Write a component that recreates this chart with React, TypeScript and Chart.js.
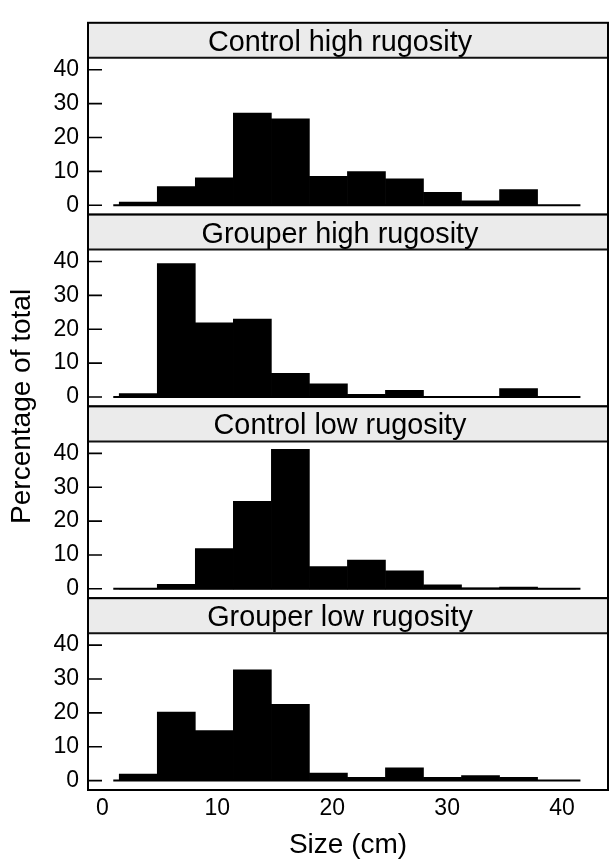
import React, { useEffect, useRef } from 'react';
import { Chart, registerables } from 'chart.js';

Chart.register(...registerables);

// ---------- data ----------
const panelTitles = [
  'Control high rugosity',
  'Grouper high rugosity',
  'Control low rugosity',
  'Grouper low rugosity',
];
const binEdges = [1.46, 4.77, 8.08, 11.39, 14.7, 18.01, 21.32, 24.63, 27.94, 31.25, 34.56, 37.87, 41.18];
const controlHigh = [0.9, 5.5, 8.1, 27.2, 25.5, 8.5, 9.9, 7.8, 3.8, 1.3, 4.6, 0];
const grouperHigh = [1.0, 39.4, 21.9, 23.0, 7.0, 3.9, 0.8, 2.0, 0, 0, 2.5, 0];
const controlLow = [0, 1.3, 11.9, 25.8, 41.2, 6.6, 8.5, 5.3, 1.2, 0.3, 0.5, 0];
const grouperLow = [1.9, 20.2, 14.8, 32.7, 22.5, 2.2, 1.0, 3.8, 1.0, 1.5, 1.0, 0];
const panelValues = [controlHigh, grouperHigh, controlLow, grouperLow];
const baselineX = [0.94, 41.6];
const xTickValues = [0, 10, 20, 30, 40];
const yTickValues = [0, 10, 20, 30, 40];
const xRange = [-1.26, 44.0];
const yRange = [-2.77, 53.86];
const xTitle = 'Size (cm)';
const yTitle = 'Percentage of total';

// ---------- style ----------
const FONT = '"Liberation Sans", Arial, Helvetica, sans-serif';
const W = 609;
const H = 859;
const STRIP_H = 35;
const TICK_LEN = 14;
const TICK_FONT = 23;

export default function App() {
  const ref = useRef<HTMLCanvasElement | null>(null);

  useEffect(() => {
    if (!ref.current) return;
    const centers = binEdges.slice(0, -1).map((e, i) => (e + binEdges[i + 1]) / 2);
    const yIds = panelValues.map((_, i) => 'y' + i);

    const datasets: any[] = [];
    panelValues.forEach((vals, i) => {
      datasets.push({
        type: 'bar',
        data: vals.map((v, j) => ({ x: centers[j], y: v })),
        xAxisID: 'x',
        yAxisID: yIds[i],
        backgroundColor: '#000',
        borderColor: '#000',
        borderWidth: 0,
        grouped: false,
        barPercentage: 1,
        categoryPercentage: 1,
        order: 1,
      });
      datasets.push({
        type: 'line',
        data: baselineX.map((x) => ({ x, y: 0 })),
        xAxisID: 'x',
        yAxisID: yIds[i],
        borderColor: '#000',
        borderWidth: 2,
        pointRadius: 0,
        fill: false,
        order: 2,
      });
    });

    const scales: any = {
      x: {
        type: 'linear',
        position: 'bottom',
        min: xRange[0],
        max: xRange[1],
        offset: false,
        grid: { display: false, drawTicks: false, offset: false },
        border: { display: false },
        afterBuildTicks: (s: any) => {
          s.ticks = xTickValues.map((v) => ({ value: v }));
        },
        ticks: {
          font: { family: FONT, size: TICK_FONT },
          color: '#000',
          padding: 5,
          maxRotation: 0,
          autoSkip: false,
        },
        title: {
          display: true,
          text: xTitle,
          color: '#000',
          font: { family: FONT, size: 28, lineHeight: 1 },
          padding: { top: 0, bottom: 0 },
        },
        afterFit: (s: any) => {
          s.height = H - 790;
        },
      },
    };
    // stacked left axes are laid out with the last-registered one on top
    [...yIds].reverse().forEach((id) => {
      scales[id] = {
        type: 'linear',
        position: 'left',
        stack: 'panels',
        stackWeight: 1,
        min: yRange[0],
        max: yRange[1],
        grid: { display: false, drawTicks: false },
        border: { display: false },
        afterBuildTicks: (s: any) => {
          s.ticks = yTickValues.map((v) => ({ value: v }));
        },
        ticks: {
          font: { family: FONT, size: TICK_FONT },
          color: '#000',
          padding: 9,
          autoSkip: false,
        },
        afterFit: (s: any) => {
          s.width = 88;
        },
      };
    });

    const panelPlugin = {
      id: 'latticePanels',
      afterDraw(chart: any) {
        const ctx = chart.ctx as CanvasRenderingContext2D;
        const { left, right, top: caTop, bottom: caBottom } = chart.chartArea;
        yIds.forEach((id, i) => {
          const s = chart.scales[id];
          const top = s.top;
          const bottom = s.bottom;
          ctx.save();
          // strip
          ctx.fillStyle = '#ebebeb';
          ctx.fillRect(left, top, right - left, STRIP_H);
          ctx.strokeStyle = '#111';
          ctx.lineWidth = 2;
          ctx.beginPath();
          ctx.moveTo(left, top + STRIP_H);
          ctx.lineTo(right, top + STRIP_H);
          ctx.stroke();
          // frame
          ctx.strokeStyle = '#000';
          ctx.lineWidth = 2;
          ctx.strokeRect(left, top, right - left, bottom - top);
          // inner ticks
          ctx.lineWidth = 1.6;
          ctx.beginPath();
          s.ticks.forEach((t: any) => {
            const y = s.getPixelForValue(t.value);
            ctx.moveTo(left, y);
            ctx.lineTo(left + TICK_LEN, y);
          });
          ctx.stroke();
          // strip label
          ctx.fillStyle = '#000';
          ctx.font = `28.8px ${FONT}`;
          ctx.textAlign = 'center';
          ctx.textBaseline = 'alphabetic';
          ctx.fillText(panelTitles[i], (left + right) / 2 - 8, top + 28);
          ctx.restore();
        });
        // y-axis title
        ctx.save();
        ctx.translate(22, (caTop + caBottom) / 2);
        ctx.rotate(-Math.PI / 2);
        ctx.fillStyle = '#000';
        ctx.font = `28px ${FONT}`;
        ctx.textAlign = 'center';
        ctx.textBaseline = 'middle';
        ctx.fillText(yTitle, 0, 0);
        ctx.restore();
      },
    };

    const chart = new Chart(ref.current, {
      type: 'bar',
      data: { datasets },
      options: {
        responsive: false,
        animation: false,
        devicePixelRatio: 1,
        layout: { padding: { top: 12, right: 1, bottom: 0, left: 0 } },
        plugins: {
          legend: { display: false },
          tooltip: { enabled: false },
          title: { display: false },
        },
        scales,
      } as any,
      plugins: [panelPlugin],
    });
    return () => chart.destroy();
  }, []);

  return (
    <div style={{ position: 'absolute', left: 0, top: 0, width: W, height: H, background: '#fff' }}>
      <canvas ref={ref} width={W} height={H} style={{ width: W, height: H, display: 'block' }} />
    </div>
  );
}
